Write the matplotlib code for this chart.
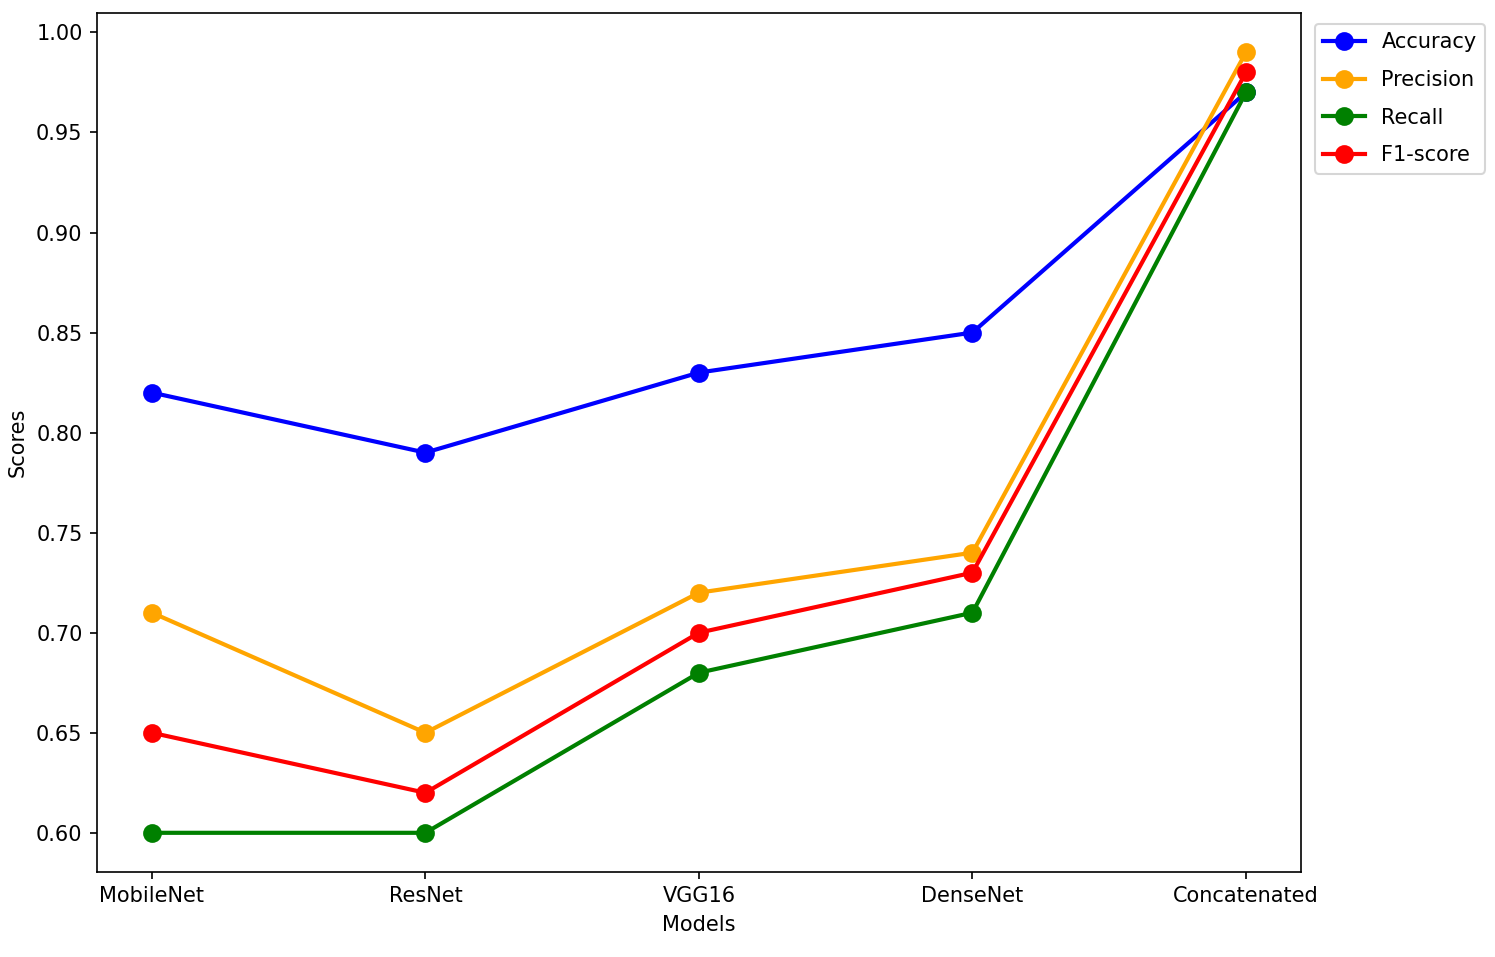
import matplotlib
matplotlib.use('Agg')
import matplotlib.pyplot as plt

models = ['MobileNet', 'ResNet', 'VGG16', 'DenseNet', 'Concatenated']
accuracy = [0.82, 0.79, 0.83, 0.85, 0.97]
precision = [0.71, 0.65, 0.72, 0.74, 0.99]
recall = [0.60, 0.60, 0.68, 0.71, 0.97]
f1_score = [0.65, 0.62, 0.70, 0.73, 0.98]

series = [('Accuracy', accuracy, 'blue'),
          ('Precision', precision, 'orange'),
          ('Recall', recall, 'green'),
          ('F1-score', f1_score, 'red')]

fig = plt.figure(figsize=(14.95 / 1.5, 9.57 / 1.5), dpi=150)
ax = fig.add_axes([0.065, 0.089, 0.805, 0.897])

for name, vals, color in series:
    ax.plot(models, vals, marker='o', color=color, label=name,
            linewidth=2, markersize=8)

ax.set_xlabel('Models')
ax.set_ylabel('Scores')
ax.set_yticks([0.60, 0.65, 0.70, 0.75, 0.80, 0.85, 0.90, 0.95, 1.00])
ax.legend(loc='upper left', bbox_to_anchor=(1.003, 1.0), labelspacing=0.85)

fig.savefig('out.png', dpi=150)
